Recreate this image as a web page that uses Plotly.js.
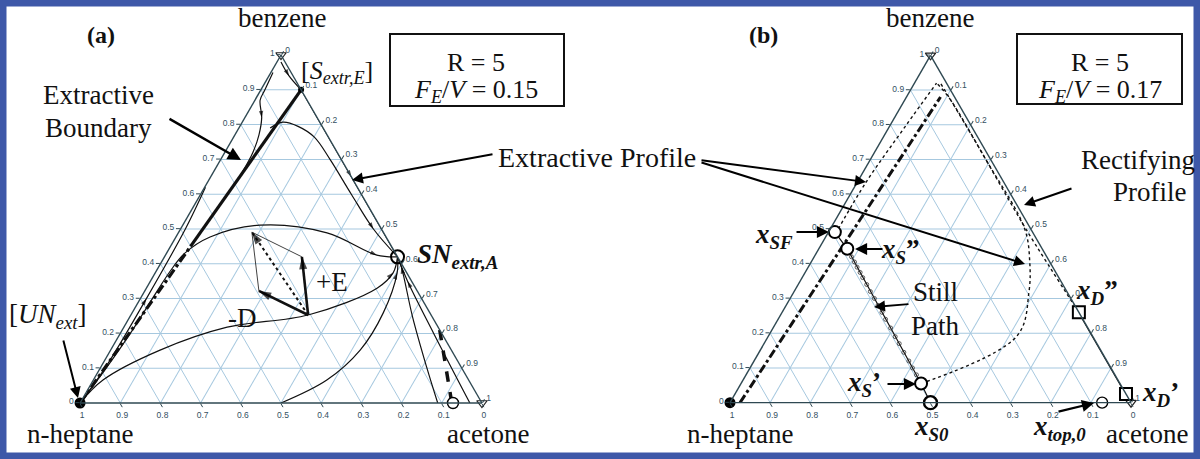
<!DOCTYPE html>
<html>
<head>
<meta charset="utf-8">
<script src="https://cdn.plot.ly/plotly-3.0.1.min.js"></script>
<style>html,body{margin:0;padding:0;background:#fff}#plot{width:1200px;height:459px}</style>
</head>
<body>
<div id="plot"></div>
<script>
/* compositions are [benzene, n-heptane, acetone] mole fractions */

/* (a) R = 5, FE/V = 0.15 */
var boundTopA   = [[0.45,0.5,0.05],[0.9,0,0.1]];
var boundLowA   = [[0,1,0],[0.45,0.5,0.05]];
var edgeLeftA   = [[0,1,0],[0.1,0.888,0.012],[0.3,0.685,0.015],[0.5,0.488,0.012],[0.62,0.378,0.002]];
var loopA       = [[0.95,0.045,0.005],[0.9,0.09,0.01],[0.87,0.117,0.013],[0.82,0.138,0.042],[0.77,0.17,0.06],[0.72,0.21,0.07],[0.66,0.268,0.072]];
var apexA       = [[0.98,0.01,0.01],[0.94,0.01,0.05],[0.9,0,0.1]];
var profCA      = [[0.79,0.132,0.078],[0.807,0.092,0.101],[0.795,0.06,0.145],[0.764,0.035,0.201],[0.7,0.028,0.272],[0.6,0.025,0.375],[0.5,0.02,0.48],[0.42,0,0.58]];
var edgeRightA  = [[0.9,0,0.1],[0.65,0,0.35],[0.42,0,0.58]];
var upperArcA   = [[0,1,0],[0.1,0.885,0.015],[0.2,0.775,0.025],[0.3,0.67,0.03],[0.38,0.585,0.035],[0.43,0.525,0.045],[0.477,0.438,0.085],[0.511,0.297,0.192],[0.489,0.141,0.37],[0.425,0.049,0.526],[0.42,0,0.58]];
var lowerArcA   = [[0,1,0],[0.066,0.91,0.024],[0.152,0.725,0.123],[0.218,0.525,0.257],[0.253,0.306,0.441],[0.33,0.096,0.574],[0.374,0.034,0.592],[0.42,0,0.58]];
var bottomArcA  = [[0,0.5,0.5],[0.066,0.353,0.581],[0.152,0.227,0.621],[0.259,0.116,0.625],[0.374,0.024,0.602],[0.42,0,0.58]];
var profDA      = [[0,0.11,0.89],[0.103,0.086,0.811],[0.247,0.049,0.704],[0.391,0.005,0.604],[0.42,0,0.58]];
var profEA      = [[0,0.03,0.97],[0.2,0.02,0.78],[0.35,0.01,0.64],[0.42,0,0.58]];
var dashA       = [[0.21,0,0.79],[0,0.075,0.925]];
var vecP = [0.253,0.306,0.441], vecE = [0.42,0.238,0.342], vecD = [0.322,0.394,0.284], vecR = [0.491,0.327,0.182];
var snA = [0.42,0,0.58], sExtrA = [0.9,0,0.1], topA = [0,0.072,0.928];

/* (b) R = 5, FE/V = 0.17 */
var dashDotB   = [[0,0.975,0.025],[0.88,0.035,0.085]];
var extrLeftB  = [[0.5,0.48,0.02],[0.635,0.343,0.022],[0.8,0.16,0.04],[0.92,0.025,0.055]];
var extrRightB = [[0.055,0.496,0.449],[0.193,0.187,0.62],[0.319,0.095,0.586],[0.405,0.05,0.545],[0.5,0.015,0.485],[0.7,0.012,0.288],[0.88,0.015,0.105],[0.92,0.025,0.055]];
var rectB      = [[0.26,0,0.74],[0.5,0.012,0.488],[0.75,0.012,0.238],[0.92,0.015,0.065]];
var distB      = [[0.025,0,0.975],[0.26,0,0.74]];
var stillB     = [[0,0.5,0.5],[0.055,0.496,0.449],[0.443,0.486,0.071],[0.491,0.493,0.016]];
var stillDotsA = [0.08,0.1,0.12,0.145,0.17,0.19,0.215,0.24,0.26,0.28,0.3,0.32,0.34,0.36,0.375,0.39,0.405,0.42,0.432];
var stillDotsB = [0.495,0.495,0.494,0.494,0.493,0.493,0.492,0.492,0.491,0.491,0.49,0.49,0.489,0.489,0.488,0.488,0.487,0.487,0.487];
var xSF = [0.491,0.493,0.016], xS2 = [0.443,0.486,0.071], xS1 = [0.055,0.496,0.449], xS0 = [0,0.5,0.5];
var xD2 = [0.26,0,0.74], xD1 = [0.025,0,0.975], xTop = [0,0.072,0.928];

var vertTop = [1,0,0], vertLeft = [0,1,0], vertRight = [0,0,1];

var W = 1200, H = 459;
function px(x){ return x / W; }
function py(y){ return 1 - y / H; }

function line(pts, sub, ln, shape){
    return {type:'scatterternary', subplot:sub, mode:'lines',
        a:pts.map(function(p){return p[0];}), b:pts.map(function(p){return p[1];}), c:pts.map(function(p){return p[2];}),
        line:Object.assign({color:'#111', width:1.2, shape:shape||'linear'}, ln), hoverinfo:'skip', cliponaxis:false};
}
function pts(list, sub, mk){
    return {type:'scatterternary', subplot:sub, mode:'markers',
        a:list.map(function(p){return p[0];}), b:list.map(function(p){return p[1];}), c:list.map(function(p){return p[2];}),
        marker:mk, hoverinfo:'skip', cliponaxis:false};
}
/* arrow head placed on segment (p0 -> p1) */
function head(p0, p1, sub, size){
    return pts([p0, p1], sub, {symbol:'arrow', size:[0, size||7], color:'#000', angleref:'previous', line:{width:0}});
}

var data = [];
var spl = 'spline';
/* panel a */
data.push(line(boundLowA,'ternary',{width:3.2, dash:'dashdot'}));
data.push(line(boundTopA,'ternary',{width:3.2}));
data.push(line(edgeLeftA,'ternary',{},spl));
data.push(line(loopA,'ternary',{},spl));
data.push(line(apexA,'ternary',{},spl));
data.push(line(profCA,'ternary',{},spl));
data.push(line(edgeRightA,'ternary',{}));
data.push(line(upperArcA,'ternary',{},spl));
data.push(line(lowerArcA,'ternary',{},spl));
data.push(line(bottomArcA,'ternary',{},spl));
data.push(line(profDA,'ternary',{},spl));
data.push(line(profEA,'ternary',{},spl));
data.push(line(dashA,'ternary',{width:3.5, dash:'dash'}));
data.push(line([vecD, vecR, vecE],'ternary',{width:0.8}));
data.push(line([vecP, vecR],'ternary',{width:2, dash:'dot'}));
data.push(line([vecP, vecE],'ternary',{width:2.6}));
data.push(line([vecP, vecD],'ternary',{width:2.6}));
data.push(head(vecP, vecE, 'ternary', 13));
data.push(head(vecP, vecD, 'ternary', 13));
data.push(head(vecP, vecR, 'ternary', 13));
data.push(head(edgeLeftA[1], edgeLeftA[2], 'ternary'));
data.push(head(loopA[2], loopA[3], 'ternary'));
data.push(head(apexA[0], apexA[1], 'ternary'));
data.push(head(edgeRightA[0], edgeRightA[1], 'ternary'));
data.push(head(upperArcA[8], upperArcA[9], 'ternary'));
data.push(head(lowerArcA[5], lowerArcA[6], 'ternary'));
data.push(head(bottomArcA[3], bottomArcA[4], 'ternary'));
data.push(head(profDA[2], profDA[3], 'ternary'));
data.push(head(profEA[1], profEA[2], 'ternary'));
data.push(head(profCA[5], profCA[6], 'ternary'));
data.push(pts([vertTop, vertRight],'ternary',{symbol:'triangle-down-open', size:9, color:'#222', line:{width:1.2}}));
data.push(pts([vertLeft],'ternary',{symbol:'circle', size:11, color:'#000'}));
data.push(pts([sExtrA],'ternary',{symbol:'circle', size:6, color:'#000'}));
data.push(pts([snA],'ternary',{symbol:'circle-open', size:13, color:'#000', line:{width:2}}));
data.push(pts([topA],'ternary',{symbol:'circle', size:11, color:'#fff', line:{width:1.4, color:'#000'}}));

/* panel b */
data.push(line(dashDotB,'ternary2',{width:3, dash:'dashdot'}));
data.push(line(extrLeftB,'ternary2',{width:1.4, dash:'dot'},spl));
data.push(line(extrRightB,'ternary2',{width:1.4, dash:'dot'},spl));
data.push(line(rectB,'ternary2',{width:1.4, dash:'dot'},spl));
data.push(line(distB,'ternary2',{width:2}));
data.push(line(stillB,'ternary2',{width:1.2}));
data.push({type:'scatterternary', subplot:'ternary2', mode:'markers', a:stillDotsA, b:stillDotsB,
    marker:{symbol:'circle-open', size:4, color:'#333', line:{width:0.8}}, hoverinfo:'skip', cliponaxis:false});
data.push(pts([vertTop, vertRight],'ternary2',{symbol:'triangle-down-open', size:9, color:'#222', line:{width:1.2}}));
data.push(pts([vertLeft],'ternary2',{symbol:'circle', size:11, color:'#000'}));
data.push(pts([xSF, xS2, xS1],'ternary2',{symbol:'circle', size:12, color:'#fff', line:{width:2, color:'#000'}}));
data.push(pts([xS0],'ternary2',{symbol:'circle', size:13, color:'#fff', line:{width:2.4, color:'#000'}}));
data.push(pts([xD2, xD1],'ternary2',{symbol:'square', size:12, color:'#fff', line:{width:2, color:'#000'}}));
data.push(pts([xTop],'ternary2',{symbol:'circle', size:11, color:'#fff', line:{width:1.4, color:'#000'}}));

var axis = {min:0, tickmode:'linear', tick0:0, dtick:0.1, showgrid:true, gridcolor:'#a6c8df', gridwidth:1,
    showline:true, linecolor:'#2e4852', linewidth:1.4, ticks:'outside', ticklen:4, tickcolor:'#2e4852',
    tickfont:{family:'Liberation Sans, Arial, sans-serif', size:8.5, color:'#34505f'}, title:{text:''}};

function tern(x0, x1){
    return {sum:1, bgcolor:'rgba(0,0,0,0)', domain:{x:[px(x0), px(x1)], y:[py(403), py(55)]},
        aaxis:axis, baxis:axis, caxis:axis};
}

var SERIF = 'Liberation Serif, Times New Roman, serif';
function txt(x, y, s, size, anchor){
    return {xref:'paper', yref:'paper', x:px(x), y:py(y), text:s, showarrow:false,
        xanchor:anchor||'center', yanchor:'middle', font:{family:SERIF, size:size||27, color:'#111'}};
}
function arr(x0, y0, x1, y1, w){
    return {xref:'paper', yref:'paper', x:px(x1), y:py(y1), ax:x0-x1, ay:y0-y1, axref:'pixel', ayref:'pixel',
        text:'', showarrow:true, arrowhead:2, arrowsize:1.1, arrowwidth:w||2, arrowcolor:'#000'};
}
function bx(x0, y0, x1, y1, w, col){
    return {type:'rect', xref:'paper', yref:'paper', x0:px(x0), y0:py(y0), x1:px(x1), y1:py(y1),
        line:{color:col||'#111', width:w||2}, fillcolor:'rgba(0,0,0,0)'};
}

var bx0 = '<b><i>x</i></b>';
var ann = [
    txt(101,35,'<b>(a)</b>',24),
    txt(282,18,'benzene'), txt(80,434,'n-heptane'), txt(488,434,'acetone'),
    txt(476,62,'R = 5',26), txt(476,91,'<i>F</i><sub><i>E</i></sub>/<i>V</i> = 0.15',26),
    txt(337,72,'[<i>S</i><sub><i>extr,E</i></sub>]',26),
    txt(98,95,'Extractive'), txt(98,128,'Boundary'),
    arr(168,118,241,160,2.4),
    txt(496,158,'Extractive Profile',28,'left'),
    arr(494,154,352,180,2),
    arr(700,160,866,182,2),
    arr(700,162,1025,264,2),
    txt(415,256,'<b><i>SN</i></b><sub><b><i>extr,A</i></b></sub>',27,'left'),
    txt(48,316,'[<i>UN</i><sub><i>ext</i></sub>]',27),
    arr(63,339,78,398,2),
    txt(332,282,'+E',27), txt(242,318,'-D',27),

    txt(763,35,'<b>(b)</b>',24),
    txt(930,18,'benzene'), txt(740,434,'n-heptane'), txt(1147,434,'acetone'),
    txt(1100,62,'R = 5',26), txt(1100,91,'<i>F</i><sub><i>E</i></sub>/<i>V</i> = 0.17',26),
    txt(1138,160,'Rectifying'), txt(1150,192,'Profile'),
    arr(1073,188,1024,205,2),
    txt(935,292,'Still'), txt(935,326,'Path'),
    arr(910,304,874,307,2),
    txt(774,236,bx0+'<sub><b><i>SF</i></b></sub>',27),
    arr(795,232,829,232,2.2),
    txt(900,251,bx0+'<sub><b><i>S</i></b></sub><b>\u201d</b>',27),
    arr(884,249,855,249,2.2),
    txt(864,384,bx0+'<sub><b><i>S</i></b></sub><b>\u2019</b>',27),
    arr(886,384,916,384,2.2),
    txt(931,428,bx0+'<sub><b><i>S0</i></b></sub>',27),
    txt(1059,428,bx0+'<sub><b><i>top,0</i></b></sub>',27),
    arr(1057,412,1094,403,2.2),
    txt(1097,292,bx0+'<sub><b><i>D</i></b></sub><b>\u201d</b>',27),
    txt(1160,394,bx0+'<sub><b><i>D</i></b></sub><b>\u2019</b>',27)
];

var layout = {
    width:W, height:H, margin:{l:0, r:0, t:0, b:0, pad:0},
    paper_bgcolor:'#fff', showlegend:false,
    ternary:tern(80,482), ternary2:tern(730,1131),
    annotations:ann,
    shapes:[bx(390,34,564,106,2), bx(1017,34,1182,104,2), bx(3,3,1197,456,7,'#3e58a8')]
};

Plotly.newPlot('plot', data, layout, {staticPlot:true, displayModeBar:false});
</script>
</body>
</html>
